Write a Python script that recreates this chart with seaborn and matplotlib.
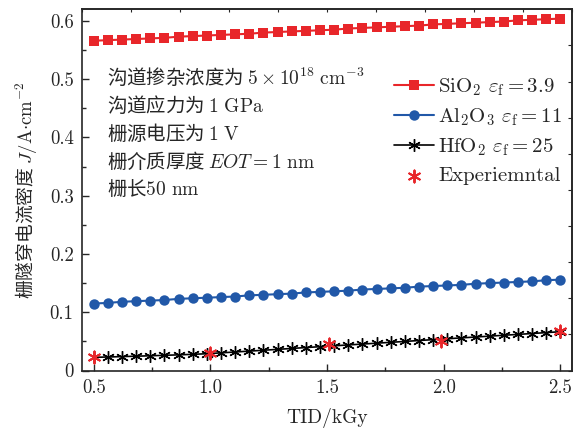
import numpy as np
import pandas as pd
import matplotlib
matplotlib.use("Agg")
import matplotlib.pyplot as plt
import seaborn as sns
from matplotlib.ticker import MultipleLocator, FuncFormatter

# ---- data ----
tid = [0.5, 0.5606, 0.6212, 0.6818, 0.7424, 0.803, 0.8636, 0.9242, 0.9848,
       1.0455, 1.1061, 1.1667, 1.2273, 1.2879, 1.3485, 1.4091, 1.4697, 1.5303,
       1.5909, 1.6515, 1.7121, 1.7727, 1.8333, 1.8939, 1.9545, 2.0152, 2.0758,
       2.1364, 2.197, 2.2576, 2.3182, 2.3788, 2.4394, 2.5]
sio2 = [0.566, 0.567, 0.568, 0.569, 0.570, 0.571, 0.573, 0.574, 0.575, 0.576,
        0.577, 0.578, 0.580, 0.581, 0.582, 0.583, 0.584, 0.585, 0.587, 0.588,
        0.589, 0.590, 0.591, 0.592, 0.594, 0.595, 0.596, 0.597, 0.598, 0.599,
        0.601, 0.602, 0.603, 0.604]
al2o3 = [0.115, 0.116, 0.118, 0.119, 0.120, 0.121, 0.123, 0.124, 0.125, 0.126,
         0.127, 0.129, 0.130, 0.131, 0.132, 0.134, 0.135, 0.136, 0.137, 0.139,
         0.140, 0.141, 0.142, 0.144, 0.145, 0.146, 0.147, 0.149, 0.150, 0.151,
         0.152, 0.153, 0.155, 0.156]
hfo2 = [0.0226, 0.0232, 0.0239, 0.0246, 0.0253, 0.0261, 0.0269, 0.0278, 0.0288,
        0.0303, 0.0318, 0.0333, 0.0348, 0.0363, 0.0379, 0.0394, 0.0409, 0.0424,
        0.0439, 0.0454, 0.0469, 0.0484, 0.0499, 0.0515, 0.0530, 0.0545, 0.0560,
        0.0575, 0.0590, 0.0605, 0.0620, 0.0635, 0.0651, 0.0666]
exp_x = [0.5, 1.0, 1.51, 1.99, 2.5]
exp_y = [0.0226, 0.0300, 0.0450, 0.0510, 0.0680]

labels = [r'SiO$_2$ $\varepsilon_\mathrm{f}=3.9$',
          r'Al$_2$O$_3$ $\varepsilon_\mathrm{f}=11$',
          r'HfO$_2$ $\varepsilon_\mathrm{f}=25$',
          'Experiemntal']
notes = [r'沟道掺杂浓度为 $5\times10^{18}\ \mathrm{cm}^{-3}$',
         r'沟道应力为 $1\ \mathrm{GPa}$',
         r'栅源电压为 $1\ \mathrm{V}$',
         r'栅介质厚度 $EOT=1\ \mathrm{nm}$',
         r'栅长$50\ \mathrm{nm}$']
ylabel = r'栅隧穿电流密度 $J/\mathrm{A{\cdot}cm}^{-2}$'
xlabel = 'TID/kGy'

sns.set_style("ticks")
plt.rcParams['font.family'] = ['cmr10', 'DejaVu Sans']
plt.rcParams['mathtext.fontset'] = 'cm'
plt.rcParams['axes.unicode_minus'] = False
plt.rcParams['axes.linewidth'] = 1.2
CJK = ['Noto Sans CJK SC', 'DejaVu Sans']

fig = plt.figure(figsize=(5.88, 4.28), dpi=100)
ax = fig.add_axes([0.1395, 0.1343, 0.8333, 0.844])

df = pd.DataFrame({'TID': tid, 'SiO2': sio2, 'Al2O3': al2o3, 'HfO2': hfo2})
red = '#e8262a'
blue = '#2158a8'
asterisk = (6, 2, 0)

sns.lineplot(data=df, x='TID', y='SiO2', ax=ax, color=red, lw=1.5,
             marker='s', markersize=6.5, markeredgewidth=0, label=labels[0])
sns.lineplot(data=df, x='TID', y='Al2O3', ax=ax, color=blue, lw=1.5,
             marker='o', markersize=7.5, markeredgewidth=0, label=labels[1])
sns.lineplot(data=df, x='TID', y='HfO2', ax=ax, color='black', lw=1.2,
             marker=asterisk, markersize=9, markeredgewidth=1.0,
             markeredgecolor='black', label=labels[2])
sns.scatterplot(x=exp_x, y=exp_y, ax=ax, color=red, marker=asterisk, s=75,
                linewidth=1.4, edgecolor=red, label=labels[3], zorder=5)

ax.set_xlim(0.45, 2.55)
ax.set_ylim(0, 0.62)
ax.xaxis.set_major_locator(MultipleLocator(0.5))
ax.xaxis.set_minor_locator(MultipleLocator(0.25))
ax.yaxis.set_major_locator(MultipleLocator(0.1))
ax.yaxis.set_minor_locator(MultipleLocator(0.05))
ax.yaxis.set_major_formatter(FuncFormatter(lambda v, p: '0' if abs(v) < 1e-9 else f'{v:.1f}'))
ax.xaxis.set_major_formatter(FuncFormatter(lambda v, p: f'{v:.1f}'))
ax.tick_params(which='major', direction='in', length=5, width=1.0, labelsize=13.5, pad=6)
ax.tick_params(which='minor', direction='in', length=3, width=1.0)
for s in ['top', 'right']:
    ax.spines[s].set_visible(True)

# tiny ticks on top/right spines (10 equal divisions)
sx = ax.secondary_xaxis('top')
sx.set_xticks([0.45 + 0.21 * k for k in range(11)])
sx.set_xticklabels([])
sx.tick_params(direction='in', length=2.5, width=0.8)
sy = ax.secondary_yaxis('right')
sy.set_yticks([0.062 * k for k in range(11)])
sy.set_yticklabels([])
sy.tick_params(direction='in', length=3, width=0.8)

ax.set_xlabel(xlabel, fontsize=14, labelpad=8)
ax.set_ylabel(ylabel, fontsize=13.5, labelpad=8, family=CJK)

for i, t in enumerate(notes):
    ax.text(0.05, 0.81 - i * 0.0775, t, transform=ax.transAxes, fontsize=14,
            va='center', ha='left', family=CJK)

ax.legend(loc='upper right', bbox_to_anchor=(1.005, 0.85), frameon=False,
          prop={'family': ['cmr10', 'DejaVu Sans'], 'size': 15},
          handlelength=1.9, handletextpad=0.2, labelspacing=0.42,
          borderaxespad=0.2)

fig.savefig('out.png', dpi=100)
